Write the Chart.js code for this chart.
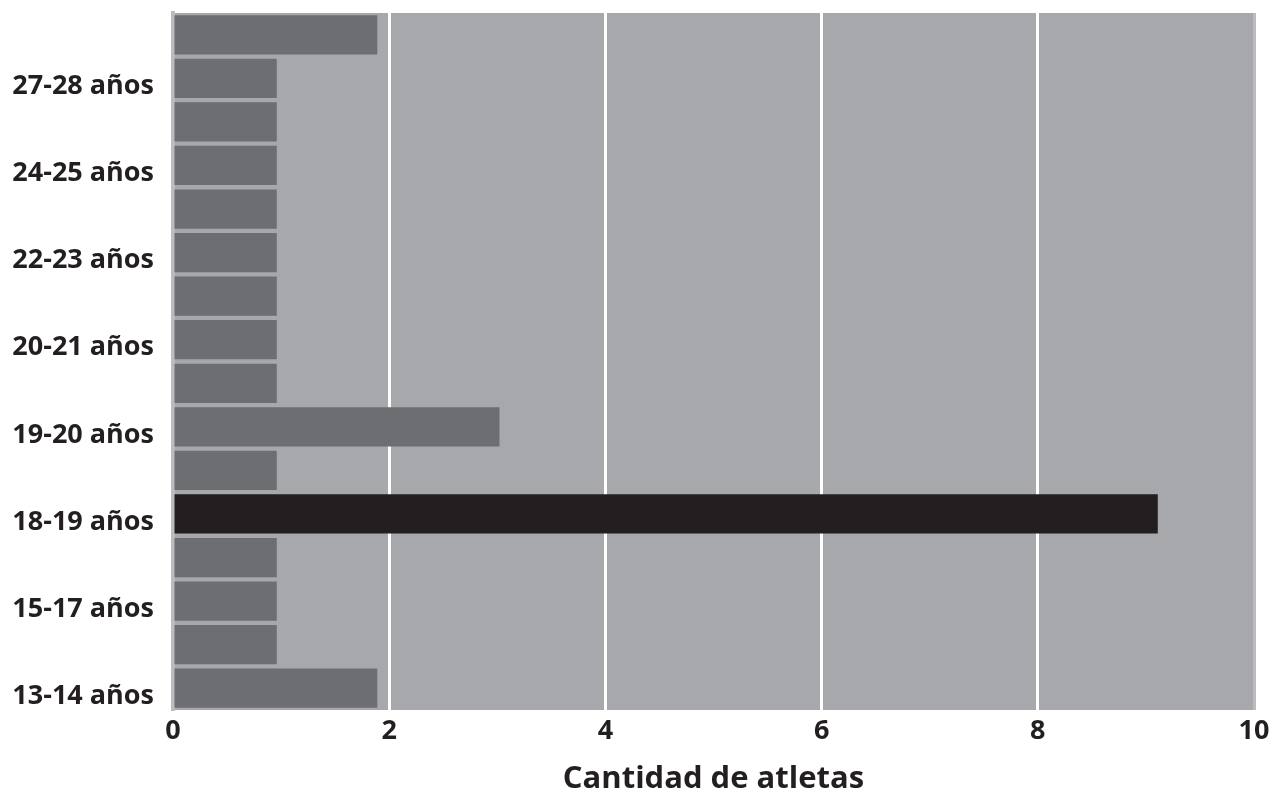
<!DOCTYPE html>
<html lang="es">
<head>
  <meta charset="UTF-8" />
  <title>Cantidad de atletas por edad</title>
  <script src="https://cdn.jsdelivr.net/npm/chart.js@4.4.0/dist/chart.umd.min.js"></script>
  <style>
    html, body { margin: 0; padding: 0; background: #ffffff; }
    #wrap { width: 1276px; height: 795px; }
  </style>
</head>
<body>
  <div id="wrap"><canvas id="ageChart" width="1276" height="795"></canvas></div>

  <script>
    // Age groups, top to bottom (only every other bar carries a label)
    const ageLabels = ['', '27-28 años', '', '24-25 años', '', '22-23 años', '', '20-21 años',
                       '', '19-20 años', '', '18-19 años', '', '15-17 años', '', '13-14 años'];
    // Number of athletes per bar
    const athleteCounts = [1.89, 0.96, 0.96, 0.96, 0.96, 0.96, 0.96, 0.96,
                           0.96, 3.02, 0.96, 9.11, 0.96, 0.96, 0.96, 1.89];
    const xTicks = [0, 2, 4, 6, 8, 10];
    const axisTitle = 'Cantidad de atletas';

    const textColor = '#231f20';
    const barGrey = '#6d6e72';
    const barDark = '#231f20';
    const plotBg = '#a7a8ac';
    const frameGrey = '#bbbcc0';
    const fontFamily = '"Open Sans", "DejaVu Sans", sans-serif';

    const peak = Math.max(...athleteCounts);

    // grey panel behind the bars
    const plotBackground = {
      id: 'plotBackground',
      beforeDraw(chart) {
        const { ctx, chartArea } = chart;
        ctx.save();
        ctx.fillStyle = plotBg;
        ctx.fillRect(chartArea.left, chartArea.top, chartArea.right - chartArea.left, chartArea.bottom - chartArea.top);
        ctx.restore();
      }
    };

    new Chart(document.getElementById('ageChart'), {
      type: 'bar',
      data: {
        labels: ageLabels,
        datasets: [{
          data: athleteCounts,
          backgroundColor: ctx => ctx.raw === peak ? barDark : barGrey,
          borderWidth: 0,
          barPercentage: 0.9,
          categoryPercentage: 1
        }]
      },
      options: {
        indexAxis: 'y',
        responsive: false,
        animation: false,
        layout: { padding: { top: 13, right: 22, bottom: 0, left: 0 } },
        plugins: {
          legend: { display: false },
          tooltip: { enabled: false }
        },
        scales: {
          x: {
            min: 0,
            max: 10,
            z: 1, // white grid lines run over the bars
            afterBuildTicks: scale => { scale.ticks = xTicks.map(v => ({ value: v })); },
            afterFit: scale => { scale.height = 85; },
            grid: {
              drawTicks: false,
              lineWidth: 3,
              color: c => c.tick.value === 0 ? 'rgba(0,0,0,0)' : (c.tick.value === 10 ? frameGrey : '#ffffff')
            },
            border: { display: false },
            ticks: {
              padding: 5,
              color: textColor,
              font: { family: fontFamily, size: 27, weight: 'bold', lineHeight: 1.2 }
            },
            title: {
              display: true,
              text: axisTitle,
              color: textColor,
              padding: { top: 0, bottom: 0 },
              font: { family: fontFamily, size: 31, weight: 'bold', lineHeight: 1.0 }
            }
          },
          y: {
            afterFit: scale => {
              scale.width = 173;
              // no extra room above/below for the labels
              scale.paddingTop = 0;
              scale.paddingBottom = 0;
            },
            grid: { display: false, drawTicks: false },
            border: { display: true, color: frameGrey, width: 4 },
            ticks: {
              autoSkip: false,
              padding: 19,
              labelOffset: 8,
              color: textColor,
              font: { family: fontFamily, size: 27, weight: 'bold' }
            }
          }
        }
      },
      plugins: [plotBackground]
    });
  </script>
</body>
</html>
